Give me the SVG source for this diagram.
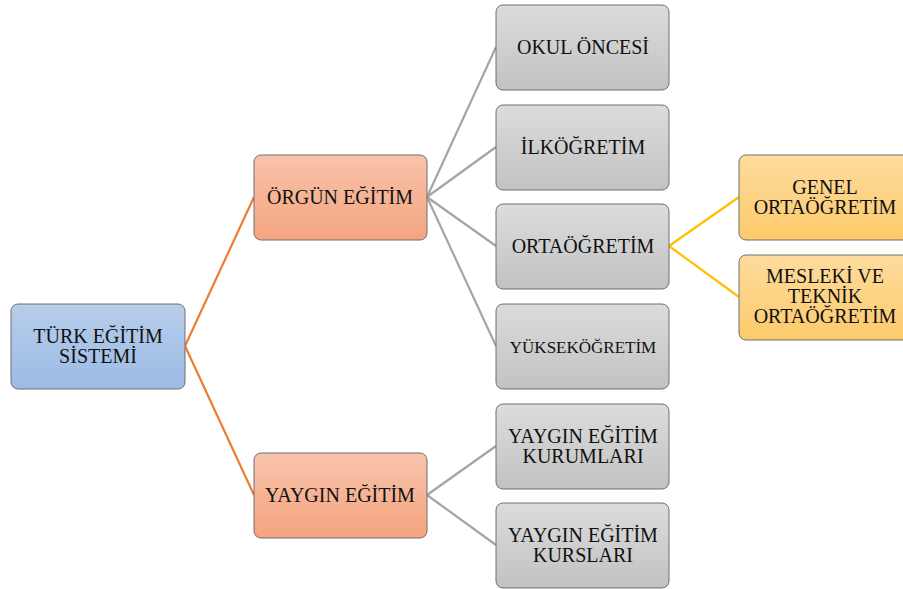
<svg xmlns="http://www.w3.org/2000/svg" width="903" height="589" viewBox="0 0 903 589">
<defs>
<linearGradient id="gBlue" x1="0" y1="0" x2="0" y2="1"><stop offset="0" stop-color="#b7cdeb"/><stop offset="1" stop-color="#9cbbe4"/></linearGradient>
<linearGradient id="gSalmon" x1="0" y1="0" x2="0" y2="1"><stop offset="0" stop-color="#f8c3ab"/><stop offset="1" stop-color="#f4a47f"/></linearGradient>
<linearGradient id="gGray" x1="0" y1="0" x2="0" y2="1"><stop offset="0" stop-color="#dcdcdc"/><stop offset="1" stop-color="#c2c2c2"/></linearGradient>
<linearGradient id="gGold" x1="0" y1="0" x2="0" y2="1"><stop offset="0" stop-color="#fedc9e"/><stop offset="1" stop-color="#fcca6a"/></linearGradient>
</defs>
<style>
.box{stroke:#6e6e6e;stroke-width:1;}
.t{font-family:"Liberation Serif","Times New Roman",serif;font-size:20px;fill:#111;text-anchor:middle;}
.s{font-size:17px;}
.c{fill:none;stroke-width:2.2;}
</style>
<rect width="903" height="589" fill="#ffffff"/>
<g id="connectors">
<path class="c" stroke="#ed7d31" d="M185,346 L254,197 M185,346 L254,495"/>
<path class="c" stroke="#a5a5a5" d="M427,197 L496,47 M427,197 L496,147 M427,197 L496,246 M427,197 L496,346 M427,495 L496,446 M427,495 L496,545"/>
<path class="c" stroke="#ffc000" d="M669,246 L739,197 M669,246 L739,297"/>
</g>
<g id="turk"><rect class="box" x="11" y="304" width="174" height="85" rx="7" fill="url(#gBlue)"/><text class="t" x="98" y="343">TÜRK EĞİTİM</text><text class="t" x="98" y="363">SİSTEMİ</text></g>
<g id="orgun"><rect class="box" x="254" y="155" width="173" height="85" rx="7" fill="url(#gSalmon)"/><text class="t" x="340" y="204">ÖRGÜN EĞİTİM</text></g>
<g id="yaygin"><rect class="box" x="254" y="453" width="173" height="85" rx="7" fill="url(#gSalmon)"/><text class="t" x="340" y="502">YAYGIN EĞİTİM</text></g>
<g id="okul"><rect class="box" x="496" y="5" width="173" height="85" rx="7" fill="url(#gGray)"/><text class="t" x="583" y="54">OKUL ÖNCESİ</text></g>
<g id="ilk"><rect class="box" x="496" y="105" width="173" height="85" rx="7" fill="url(#gGray)"/><text class="t" x="583" y="154">İLKÖĞRETİM</text></g>
<g id="orta"><rect class="box" x="496" y="204" width="173" height="85" rx="7" fill="url(#gGray)"/><text class="t" x="583" y="253">ORTAÖĞRETİM</text></g>
<g id="yuksek"><rect class="box" x="496" y="304" width="173" height="85" rx="7" fill="url(#gGray)"/><text class="t s" x="583" y="353">YÜKSEKÖĞRETİM</text></g>
<g id="ykurum"><rect class="box" x="496" y="404" width="173" height="85" rx="7" fill="url(#gGray)"/><text class="t" x="583" y="443">YAYGIN EĞİTİM</text><text class="t" x="583" y="463">KURUMLARI</text></g>
<g id="ykurs"><rect class="box" x="496" y="503" width="173" height="85" rx="7" fill="url(#gGray)"/><text class="t" x="583" y="542">YAYGIN EĞİTİM</text><text class="t" x="583" y="562">KURSLARI</text></g>
<g id="genel"><rect class="box" x="739" y="155" width="173" height="85" rx="7" fill="url(#gGold)"/><text class="t" x="825" y="194">GENEL</text><text class="t" x="825" y="214">ORTAÖĞRETİM</text></g>
<g id="mesleki"><rect class="box" x="739" y="255" width="173" height="85" rx="7" fill="url(#gGold)"/><text class="t" x="825" y="283">MESLEKİ VE</text><text class="t" x="825" y="303">TEKNİK</text><text class="t" x="825" y="323">ORTAÖĞRETİM</text></g>
</svg>
